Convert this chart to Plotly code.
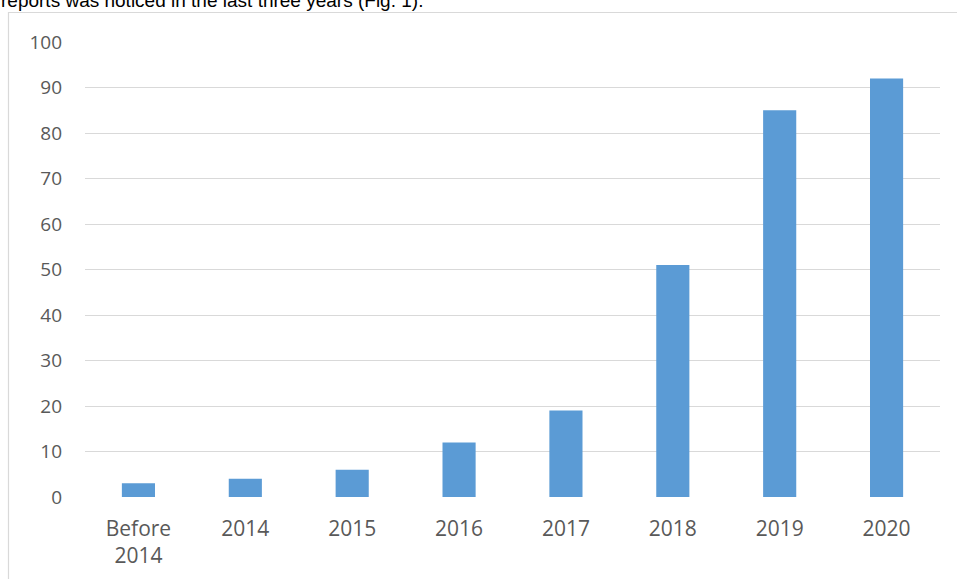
import plotly.graph_objects as go

categories = ["Before<br>2014", "2014", "2015", "2016", "2017", "2018", "2019", "2020"]
values = [3, 4, 6, 12, 19, 51, 85, 92]
y_ticks = [0, 10, 20, 30, 40, 50, 60, 70, 80, 90, 100]

W, H = 957, 579
ml, mr, mt, mb = 85, 17, 42, 82
pw = W - ml - mr
ph = H - mt - mb

fig = go.Figure(go.Bar(x=categories, y=values, marker=dict(color="#5b9bd5", line=dict(width=0))))

def px_x(p):
    return (p - ml) / pw

def px_y(p):
    return (H - mb - p) / ph

fig.update_layout(
    width=W, height=H,
    margin=dict(l=ml, r=mr, t=mt, b=mb, autoexpand=False),
    paper_bgcolor="white", plot_bgcolor="white",
    bargap=0.69,
    showlegend=False,
    font=dict(family="Open Sans", color="#595959", size=19),
    xaxis=dict(showgrid=False, showline=False, ticks="", automargin=False, ticklabelstandoff=17,
               tickfont=dict(size=21, color="#595959"), fixedrange=True),
    yaxis=dict(range=[0, 100], tickvals=y_ticks, showgrid=True, gridcolor="#d9d9d9", gridwidth=1.3,
               zeroline=False, showline=False, ticks="", ticklabelstandoff=22, automargin=False,
               tickfont=dict(size=19, color="#595959")),
    shapes=[dict(type="rect", xref="paper", yref="paper",
                 x0=px_x(8.5), x1=px_x(1000), y0=px_y(12.5), y1=px_y(700),
                 line=dict(color="#d9d9d9", width=1.2), fillcolor="rgba(0,0,0,0)", layer="below")],
    annotations=[dict(text="reports was noticed in the last three years (Fig. 1).",
                      xref="paper", yref="paper", x=px_x(-1), y=px_y(13), xanchor="left", yanchor="bottom",
                      showarrow=False, font=dict(family="Liberation Sans", size=19, color="black"))],
)

fig.write_html("out.html", config={"displayModeBar": False},
               post_script="document.body.style.margin='0';document.body.style.overflow='hidden';")
